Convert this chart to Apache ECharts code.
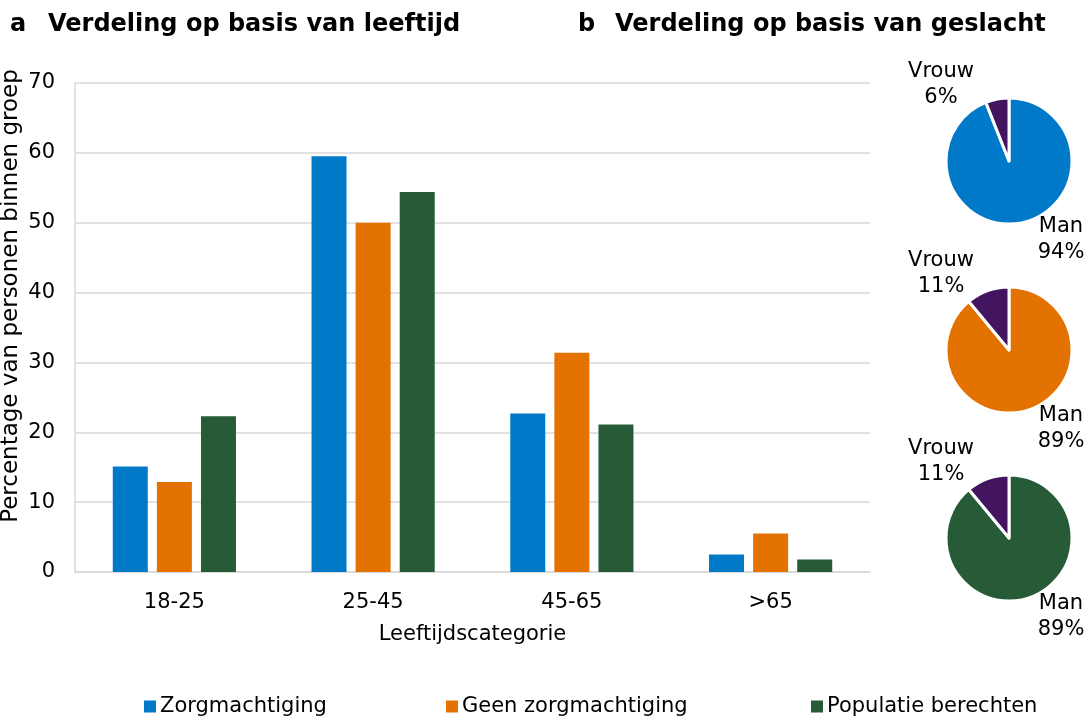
<!DOCTYPE html>
<html>
<head>
<meta charset="utf-8">
<script src="https://cdn.jsdelivr.net/npm/echarts@6/dist/echarts.min.js"></script>
<style>
  html, body { margin: 0; padding: 0; background: #fff; }
  #chart { width: 1092px; height: 716px; }
</style>
</head>
<body>
<div id="chart"></div>
<script>
// leeftijd (a)
const categories = ["18-25", "25-45", "45-65", ">65"]
const zorgmachtiging = [15.1, 59.5, 22.7, 2.5]
const geenZorgmachtiging = [12.9, 50.0, 31.4, 5.5]
const populatie = [22.3, 54.4, 21.1, 1.8]
const yTicks = [0, 70, 10] // min, max, interval

// geslacht (b)
const genderNames = ["Man", "Vrouw"]
const pieZorg = [94, 6]
const pieGeen = [89, 11]
const piePop = [89, 11]

const seriesNames = ["Zorgmachtiging", "Geen zorgmachtiging", "Populatie berechten"]
const colors = ["#0079C8", "#E37200", "#275B38"]
const purple = "#43145F"
const FONT = "DejaVu Sans"

const chart = echarts.init(document.getElementById("chart"))

const pieCenters = [161, 350, 538]
const pieX = 1009
// label offset from pie centre: Man, Vrouw
const labelOffsets = [[52, 79], [-68, -76]]

const makePie = (values, idx) => ({
  type: "pie",
  center: [pieX, pieCenters[idx]],
  radius: 63,
  startAngle: 90,
  clockwise: true,
  silent: true,
  data: genderNames.map((n, i) => ({
    name: n,
    value: values[i],
    itemStyle: { color: i === 0 ? colors[idx] : purple }
  })),
  itemStyle: { borderColor: "#fff", borderWidth: 3 },
  label: {
    show: true,
    position: "inside",
    overflow: "none",
    formatter: "{b}\n{c}%",
    fontFamily: FONT,
    fontSize: 21,
    lineHeight: 26,
    color: "#000"
  },
  labelLine: { show: false },
  labelLayout: (p) => ({
    x: pieX + labelOffsets[p.dataIndex][0],
    y: pieCenters[idx] + labelOffsets[p.dataIndex][1],
    align: "center",
    verticalAlign: "middle"
  })
})

const legendLefts = [139, 441, 806]
const titleFont = "bold 24px DejaVu Sans"

const options = {
  animation: false,
  textStyle: { fontFamily: FONT },
  graphic: [
    { type: "text", left: 10, top: 13, style: { text: "a", font: titleFont, fill: "#000" } },
    { type: "text", left: 48, top: 13, style: { text: "Verdeling op basis van leeftijd", font: titleFont, fill: "#000" } },
    { type: "text", left: 578, top: 13, style: { text: "b", font: titleFont, fill: "#000" } },
    { type: "text", left: 615, top: 13, style: { text: "Verdeling op basis van geslacht", font: titleFont, fill: "#000" } },
    {
      type: "text",
      x: 0,
      y: 296,
      rotation: Math.PI / 2,
      style: {
        text: "Percentage van personen binnen groep",
        font: "23px DejaVu Sans",
        fill: "#000",
        align: "center",
        verticalAlign: "top"
      }
    }
  ],
  legend: seriesNames.map((n, i) => ({
    data: [n],
    left: legendLefts[i],
    top: 691,
    itemWidth: 12,
    itemHeight: 12,
    itemGap: 4,
    icon: "rect",
    selectedMode: false,
    textStyle: { fontFamily: FONT, fontSize: 21, color: "#000", padding: [0, 0, 0, -1] }
  })),
  grid: { left: 75, right: 222, top: 83, bottom: 144 },
  xAxis: {
    type: "category",
    data: categories,
    name: "Leeftijdscategorie",
    nameLocation: "middle",
    nameGap: 52,
    nameTextStyle: { fontFamily: FONT, fontSize: 21, color: "#000" },
    axisLine: { lineStyle: { color: "#D9D9D9", width: 1.5 } },
    axisTick: { show: false },
    axisLabel: { fontFamily: FONT, fontSize: 21, color: "#000", margin: 20 }
  },
  yAxis: {
    type: "value",
    min: yTicks[0],
    max: yTicks[1],
    interval: yTicks[2],
    axisLine: { show: true, lineStyle: { color: "#D9D9D9", width: 1.5 } },
    axisTick: { show: false },
    splitLine: { lineStyle: { color: "#D9D9D9", width: 1.5 } },
    axisLabel: { fontFamily: FONT, fontSize: 21, color: "#000", margin: 20 }
  },
  series: [
    ...[zorgmachtiging, geenZorgmachtiging, populatie].map((d, i) => ({
      name: seriesNames[i],
      type: "bar",
      data: d,
      barWidth: 35,
      barGap: "26%",
      itemStyle: { color: colors[i] }
    })),
    makePie(pieZorg, 0),
    makePie(pieGeen, 1),
    makePie(piePop, 2)
  ]
}

chart.setOption(options)
</script>
</body>
</html>
